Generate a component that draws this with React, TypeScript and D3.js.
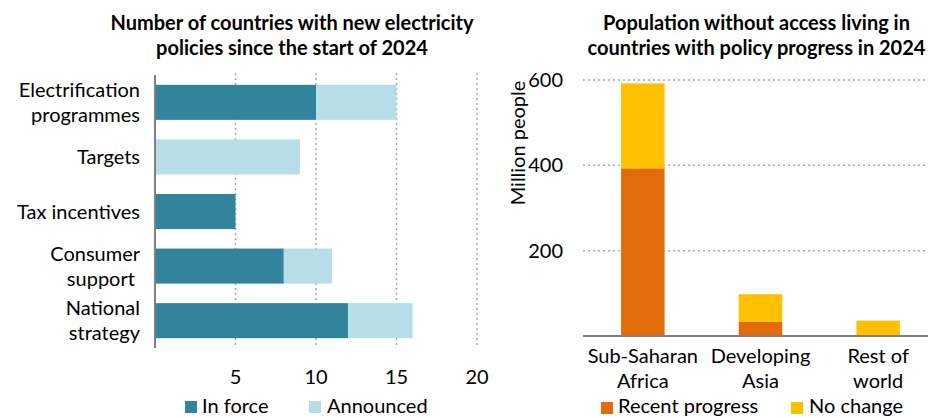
import React from "react";
import * as d3 from "d3";

const policyCategories = [
  ["Electrification", "programmes"],
  ["Targets"],
  ["Tax incentives"],
  ["Consumer", "support "],
  ["National", "strategy"],
];
const inForce = [10, 0, 5, 8, 12];
const announced = [5, 9, 0, 3, 4];
const policyTicks = [5, 10, 15, 20];
const policySeries = ["In force", "Announced"];

const regions = [
  ["Sub-Saharan", "Africa"],
  ["Developing", "Asia"],
  ["Rest of", "world"],
];
const recentProgress = [393, 33, 0];
const noChange = [199, 65, 36];
const popTicks = [200, 400, 600];
const popSeries = ["Recent progress", "No change"];

const FONT = "Lato, 'Open Sans', sans-serif";
const C_DARK = "#31849B";
const C_LIGHT = "#B7DEE8";
const C_ORANGE = "#E36C0A";
const C_YELLOW = "#FFC000";
const GRID = "#a6a6a6";
const AXIS = "#808080";

export default function App() {
  const W = 928;
  const H = 418;

  // Left chart
  const x = d3.scaleLinear().domain([0, 20]).range([155, 477]);
  const yb = d3
    .scaleBand<number>()
    .domain(d3.range(policyCategories.length))
    .range([75, 348])
    .paddingInner(0.358)
    .paddingOuter(0.18);

  // Right chart
  const yr = d3.scaleLinear().domain([0, 600]).range([336, 80]);
  const xr = d3
    .scaleBand<number>()
    .domain(d3.range(regions.length))
    .range([584, 937])
    .paddingInner(0.63)
    .paddingOuter(0.315);

  const lblSize = 20;
  const titleSize = 20;

  return (
    <svg width={W} height={H} style={{ position: "absolute", left: 0, top: 0, fontFamily: FONT }}>
      <rect width={W} height={H} fill="#fff" />
      {/* Left title */}
      <text x={292} y={30} textAnchor="middle" fontWeight="bold" fontSize={titleSize} fill="#000">
        Number of countries with new electricity
      </text>
      <text x={292} y={55} textAnchor="middle" fontWeight="bold" fontSize={titleSize} fill="#000">
        policies since the start of 2024
      </text>

      {/* Left grid */}
      {policyTicks.map((t) => (
        <line key={t} x1={x(t)} x2={x(t)} y1={73} y2={348} stroke={GRID} strokeWidth={1.5} strokeDasharray="2,3" />
      ))}
      {/* Left bars */}
      {policyCategories.map((_, i) => (
        <g key={i}>
          {inForce[i] > 0 && (
            <rect x={x(0)} y={yb(i)} width={x(inForce[i]) - x(0)} height={yb.bandwidth()} fill={C_DARK} />
          )}
          {announced[i] > 0 && (
            <rect
              x={x(inForce[i])}
              y={yb(i)}
              width={x(inForce[i] + announced[i]) - x(inForce[i])}
              height={yb.bandwidth()}
              fill={C_LIGHT}
            />
          )}
        </g>
      ))}
      <line x1={x(0)} x2={x(0)} y1={75} y2={348} stroke={AXIS} strokeWidth={2} />
      {/* Left category labels */}
      {policyCategories.map((lines, i) => {
        const cy = (yb(i) as number) + yb.bandwidth() / 2;
        const lh = 25;
        const y0 = cy - ((lines.length - 1) * lh) / 2 + 7;
        return (
          <text key={i} textAnchor="end" fontSize={lblSize} fill="#000" style={{ whiteSpace: "pre" }}>
            {lines.map((l, j) => (
              <tspan key={j} x={140} y={y0 + j * lh}>
                {l}
              </tspan>
            ))}
          </text>
        );
      })}
      {/* Left ticks */}
      {policyTicks.map((t) => (
        <text key={t} x={x(t)} y={384} textAnchor="middle" fontSize={lblSize} fill="#000">
          {t}
        </text>
      ))}
      {/* Left legend */}
      <rect x={185} y={401} width={12} height={12} fill={C_DARK} />
      <text x={202} y={413} fontSize={lblSize} fill="#000">{policySeries[0]}</text>
      <rect x={309} y={401} width={12} height={12} fill={C_LIGHT} />
      <text x={327} y={413} fontSize={lblSize} fill="#000">{policySeries[1]}</text>

      {/* Right title */}
      <text x={756.5} y={30} textAnchor="middle" fontWeight="bold" fontSize={titleSize} fill="#000">
        Population without access living in
      </text>
      <text x={756.5} y={55} textAnchor="middle" fontWeight="bold" fontSize={titleSize} fill="#000">
        countries with policy progress in 2024
      </text>

      {/* Right grid */}
      {popTicks.map((t) => (
        <line key={t} x1={583} x2={W} y1={yr(t)} y2={yr(t)} stroke={GRID} strokeWidth={1.5} strokeDasharray="2,3" />
      ))}
      {/* Right bars */}
      {regions.map((_, i) => (
        <g key={i}>
          {recentProgress[i] > 0 && (
            <rect
              x={xr(i)}
              y={yr(recentProgress[i])}
              width={xr.bandwidth()}
              height={yr(0) - yr(recentProgress[i])}
              fill={C_ORANGE}
            />
          )}
          {noChange[i] > 0 && (
            <rect
              x={xr(i)}
              y={yr(recentProgress[i] + noChange[i])}
              width={xr.bandwidth()}
              height={yr(recentProgress[i]) - yr(recentProgress[i] + noChange[i])}
              fill={C_YELLOW}
            />
          )}
        </g>
      ))}
      <line x1={583} x2={W} y1={yr(0)} y2={yr(0)} stroke={AXIS} strokeWidth={2} />
      {/* Right ticks */}
      {popTicks.map((t) => (
        <text key={t} x={563} y={yr(t) + 7} textAnchor="end" fontSize={lblSize} fill="#000">
          {t}
        </text>
      ))}
      <text
        transform={`translate(525,143) rotate(-90)`}
        textAnchor="middle"
        fontSize={lblSize}
        fill="#000"
      >
        Million people
      </text>
      {/* Right category labels */}
      {regions.map((lines, i) => {
        const cx = (xr(i) as number) + xr.bandwidth() / 2;
        return (
          <text key={i} textAnchor="middle" fontSize={lblSize} fill="#000">
            {lines.map((l, j) => (
              <tspan key={j} x={cx} y={363 + j * 25}>
                {l}
              </tspan>
            ))}
          </text>
        );
      })}
      {/* Right legend */}
      <rect x={601} y={402} width={12} height={12} fill={C_ORANGE} />
      <text x={618} y={413} fontSize={lblSize} fill="#000">{popSeries[0]}</text>
      <rect x={791} y={402} width={12} height={12} fill={C_YELLOW} />
      <text x={809} y={413} fontSize={lblSize} fill="#000">{popSeries[1]}</text>
    </svg>
  );
}
